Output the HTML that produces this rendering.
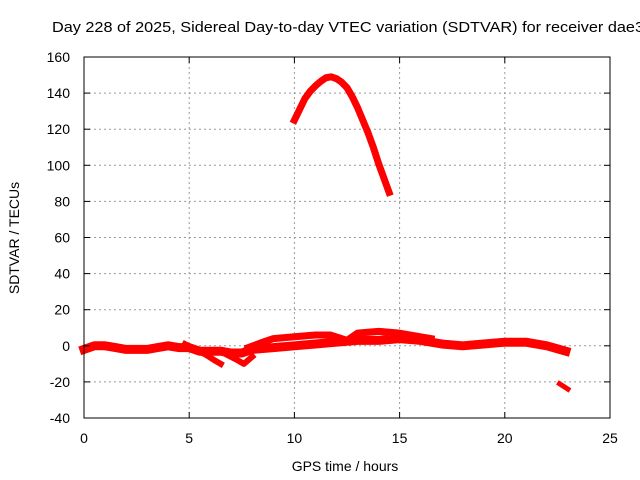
<!DOCTYPE html>
<html><head><meta charset="utf-8"><style>
body{margin:0;background:#fff}
svg{display:block;font-family:"Liberation Sans",sans-serif;font-size:14px}
</style></head><body>
<svg id="c" width="640" height="480">
<rect width="640" height="480" fill="#fff"/>
<text x="52" y="32" textLength="592" lengthAdjust="spacingAndGlyphs" style="font-size:15px">Day 228 of 2025, Sidereal Day-to-day VTEC variation (SDTVAR) for receiver dae3</text>
<text x="345" y="471" text-anchor="middle">GPS time / hours</text>
<text transform="translate(19,238) rotate(-90)" text-anchor="middle">SDTVAR / TECUs</text>
<g id="grid"></g><g id="marks"></g><g id="ticks"></g>
<rect x="84" y="57" width="526" height="361" fill="none" stroke="#000"/>
</svg>
<script>
const xTicks=[0,5,10,15,20,25];
const yTicks=[-40,-20,0,20,40,60,80,100,120,140,160];
const seriesMainX=[0,0.5,1,1.5,2,2.5,3,3.5,4,4.5,5,5.5,6,6.5,7,7.5,8,9,10,11,12,13,14,15,16,17,18,19,20,21,22,22.9];
const seriesMainY=[-2,0,0,-1,-2,-2,-2,-1,0,-1,-1,-3,-3,-3,-4,-4,-2,-1,0,1,2,3,3,4,3,1,0,1,2,2,0,-3];
const seriesDipAX=[4.8,5.3,5.8,6.2,6.5];
const seriesDipAY=[1,-2,-5,-8,-10];
const seriesDipBX=[6.8,7.3,7.6,8.0];
const seriesDipBY=[-5,-8,-10,-6];
const seriesUpperX=[7.8,8.5,9,10,11,11.7,12.5,13,14,15,16,16.5];
const seriesUpperY=[-1,2,4,5,6,6,3,7,8,7,5,4];
const seriesArcX=[10,10.25,10.5,10.75,11,11.25,11.5,11.75,12,12.25,12.5,12.75,13,13.25,13.5,13.75,14,14.25,14.5];
const seriesArcY=[125,131,137,141,144,146.5,148.5,149,148,146,143,138,132,125,118,110,101,93,85];
const seriesTailX=[22.6,23];
const seriesTailY=[-21,-24];
const X=v=>84+v*526/25, Y=v=>418-(v+40)*361/200;
const NS="http://www.w3.org/2000/svg";
const g=document.getElementById('grid'),m=document.getElementById('marks'),t=document.getElementById('ticks');
function mk(p,tag,a){const e=document.createElementNS(NS,tag);for(const k in a)e.setAttribute(k,a[k]);p.appendChild(e);return e;}
xTicks.forEach(v=>{
 if(v>0&&v<25){const l=mk(g,'line',{x1:X(v),x2:X(v),y1:57,y2:418,stroke:'#999','stroke-dasharray':'2,3'});
 
 }
 mk(t,'line',{x1:X(v),x2:X(v),y1:418,y2:412,stroke:'#000'});
 mk(t,'line',{x1:X(v),x2:X(v),y1:57,y2:63,stroke:'#000'});
 const s=mk(t,'text',{x:X(v),y:443,'text-anchor':'middle'});s.textContent=v;
 
 
});
yTicks.forEach(v=>{
 if(v>-40&&v<160){const l=mk(g,'line',{x1:84,x2:610,y1:Y(v),y2:Y(v),stroke:'#999','stroke-dasharray':'2,3'});
 
 }
 mk(t,'line',{x1:84,x2:90,y1:Y(v),y2:Y(v),stroke:'#000'});
 mk(t,'line',{x1:604,x2:610,y1:Y(v),y2:Y(v),stroke:'#000'});
 const s=mk(t,'text',{x:70,y:Y(v)+5,'text-anchor':'end'});s.textContent=v;
 
 
});
function line(xs,ys,w,name){
 const p=mk(m,'polyline',{points:xs.map((x,i)=>X(x)+','+Y(ys[i])).join(' '),fill:'none',stroke:'#f00','stroke-width':w,'stroke-linejoin':'round','stroke-linecap':'square'});
 
 
}
line(seriesMainX,seriesMainY,9,'series-main-band');
line(seriesDipAX,seriesDipAY,6,'series-dip-a');
line(seriesDipBX,seriesDipBY,6,'series-dip-b');
line(seriesUpperX,seriesUpperY,7,'series-upper-branch');
line(seriesArcX,seriesArcY,7,'series-arc');
line(seriesTailX,seriesTailY,5,'series-tail');
</script>
</body></html>
